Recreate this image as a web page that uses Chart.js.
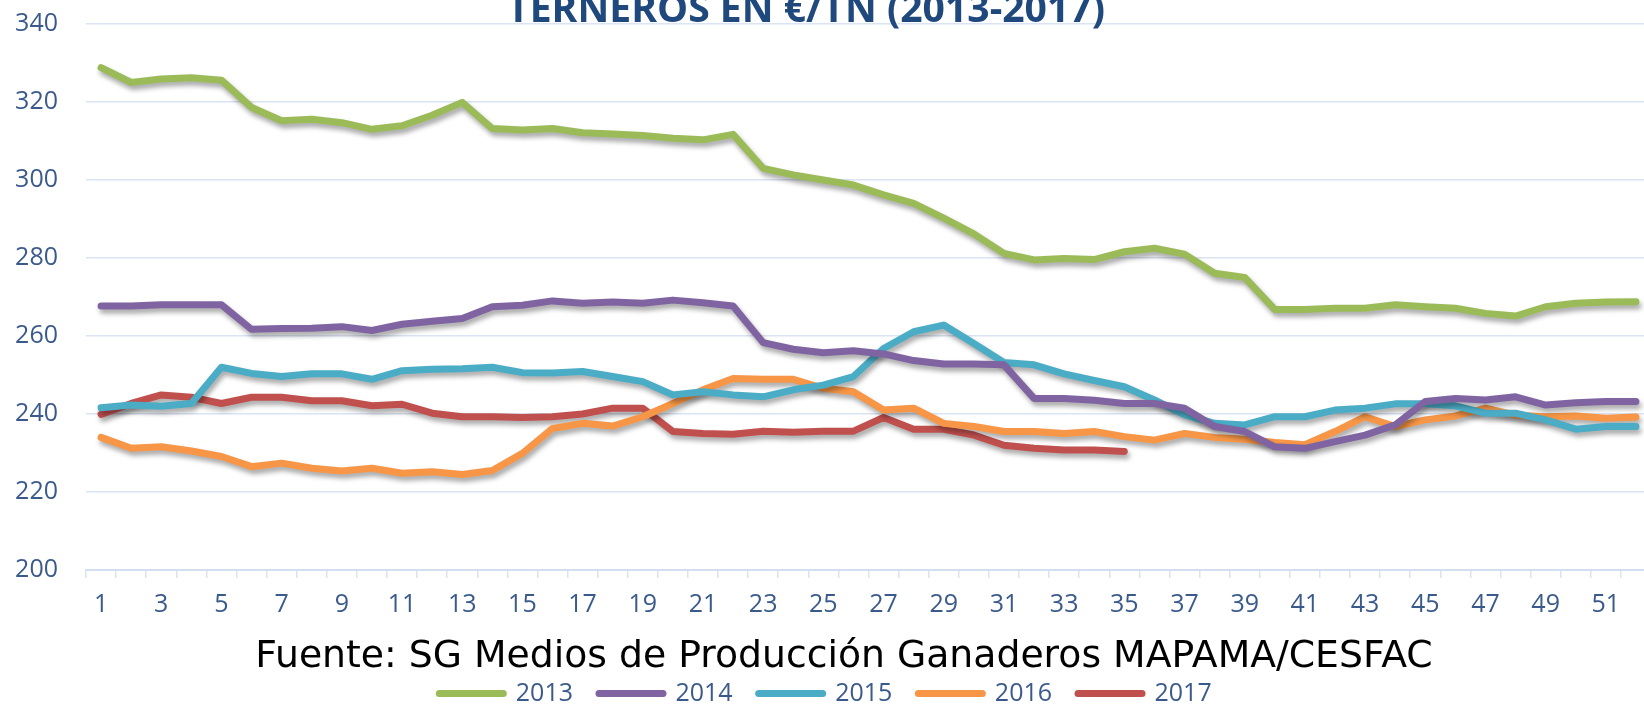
<!DOCTYPE html>
<html>
<head>
<meta charset="utf-8">
<script src="https://cdn.jsdelivr.net/npm/chart.js@4/dist/chart.umd.min.js"></script>
<style>
  html, body { margin: 0; padding: 0; background: #ffffff; overflow: hidden; }
  #wrap { position: relative; width: 1644px; height: 705px; overflow: hidden; }
  canvas { display: block; }
</style>
</head>
<body>
<div id="wrap"><canvas id="c" width="1652" height="716"></canvas></div>
<script>
const titleText = 'TERNEROS EN €/TN (2013-2017)';
const sourceText = 'Fuente: SG Medios de Producción Ganaderos MAPAMA/CESFAC';

const weeks = ['1','2','3','4','5','6','7','8','9','10','11','12','13','14','15','16','17','18','19','20',
  '21','22','23','24','25','26','27','28','29','30','31','32','33','34','35','36','37','38','39','40',
  '41','42','43','44','45','46','47','48','49','50','51','52'];

const seriesNames = ['2013', '2014', '2015', '2016', '2017'];

const s2013 = [328.8,325.0,325.9,326.2,325.6,318.6,315.2,315.6,314.7,313.0,
  313.9,316.6,319.9,313.2,312.8,313.2,312.1,311.8,311.4,310.7,
  310.3,311.7,303.0,301.3,300.0,298.7,296.2,294.0,290.2,286.2,
  281.2,279.5,279.9,279.6,281.6,282.5,281.0,276.1,275.0,266.8,
  266.8,267.1,267.1,268.0,267.5,267.1,265.8,265.1,267.5,268.4,
  268.7,268.8];
const s2014 = [267.7,267.7,268.0,268.0,268.0,261.7,261.9,262.0,262.4,261.4,
  263.0,263.8,264.5,267.5,267.9,269.0,268.4,268.7,268.4,269.2,
  268.5,267.7,258.3,256.6,255.7,256.2,255.4,253.7,252.8,252.8,
  252.6,244.0,244.0,243.5,242.7,242.7,241.5,236.8,235.5,231.6,
  231.2,232.9,234.6,237.2,243.2,244.0,243.6,244.4,242.3,242.9,
  243.2,243.2];
const s2015 = [241.6,242.3,242.0,242.7,252.0,250.4,249.6,250.3,250.3,248.9,
  251.1,251.5,251.6,252.0,250.6,250.5,250.9,249.6,248.3,244.9,
  245.7,244.9,244.4,246.2,247.4,249.6,256.8,261.1,262.8,258.1,
  253.2,252.6,250.3,248.6,247.0,243.6,239.8,237.6,237.2,239.3,
  239.3,241.0,241.5,242.6,242.6,242.1,240.2,240.2,238.5,236.1,
  236.8,236.8];
const s2016 = [234.0,231.2,231.6,230.5,229.1,226.5,227.4,226.1,225.4,226.1,
  224.8,225.2,224.5,225.5,229.9,236.3,237.6,236.9,239.3,242.7,
  246.2,249.1,248.9,248.9,246.6,245.7,241.0,241.5,237.6,236.8,
  235.5,235.5,235.0,235.5,234.2,233.3,235.0,234.0,233.5,232.7,
  232.1,235.5,239.3,236.8,238.5,239.5,241.5,239.7,239.3,239.5,
  238.9,239.2];
const s2017 = [239.9,242.7,244.9,244.3,242.7,244.3,244.3,243.4,243.4,242.1,
  242.5,240.2,239.3,239.3,239.1,239.3,240.0,241.5,241.5,235.5,
  235.0,234.8,235.6,235.3,235.6,235.6,239.1,236.1,236.1,234.6,
  232.0,231.2,230.8,230.8,230.4];

const yTicks = [200, 220, 240, 260, 280, 300, 320, 340];

const colors = ['#9BBB59', '#8064A2', '#4BACC6', '#F79646', '#C0504D'];
const allSeries = [s2013, s2014, s2015, s2016, s2017];

const tickColor = '#3B5A8C';
const gridColor = '#DAE4F3';

const shadowPlugin = {
  id: 'lineShadow',
  beforeDatasetsDraw(chart) {
    const ctx = chart.ctx;
    ctx.save();
    ctx.shadowColor = 'rgba(0,0,0,0.35)';
    ctx.shadowBlur = 5;
    ctx.shadowOffsetX = 2;
    ctx.shadowOffsetY = 4;
  },
  afterDatasetsDraw(chart) {
    chart.ctx.restore();
  }
};

function fitFont(ctx, text, family, weight, targetWidth) {
  ctx.font = weight + ' 40px ' + family;
  const w = ctx.measureText(text).width;
  return 40 * targetWidth / w;
}

const textPlugin = {
  id: 'extraTexts',
  afterDraw(chart) {
    const ctx = chart.ctx;
    const area = chart.chartArea;
    ctx.save();
    const tSize = fitFont(ctx, titleText, '"Open Sans", sans-serif', 'bold', 598);
    ctx.font = 'bold ' + tSize + 'px "Open Sans", sans-serif';
    ctx.fillStyle = '#1F497D';
    ctx.textAlign = 'center';
    ctx.textBaseline = 'alphabetic';
    ctx.fillText(titleText, 806, area.top - 2.5);
    const sSize = fitFont(ctx, sourceText, '"DejaVu Sans", sans-serif', 'normal', 1178);
    ctx.font = 'normal ' + sSize + 'px "DejaVu Sans", sans-serif';
    ctx.fillStyle = '#000000';
    ctx.fillText(sourceText, 844, area.bottom + 97);
    ctx.restore();
  }
};

const datasets = seriesNames.map((name, i) => ({
  label: name,
  data: allSeries[i],
  borderColor: colors[i],
  backgroundColor: colors[i],
  borderWidth: 7,
  pointRadius: 0,
  pointHoverRadius: 0,
  tension: 0,
  fill: false,
  borderJoinStyle: 'round',
  borderCapStyle: 'round'
}));

new Chart(document.getElementById('c'), {
  type: 'line',
  data: { labels: weeks, datasets },
  plugins: [shadowPlugin, textPlugin],
  options: {
    responsive: false,
    devicePixelRatio: 1,
    animation: false,
    layout: { padding: { top: 24, right: 1, left: 0, bottom: 0 } },
    plugins: {
      title: { display: false },
      tooltip: { enabled: false },
      legend: {
        display: true,
        position: 'bottom',
        labels: {
          usePointStyle: true,
          pointStyleWidth: 64,
          padding: 26,
          color: tickColor,
          font: { family: '"Open Sans", sans-serif', size: 25 },
          generateLabels(chart) {
            return chart.data.datasets.map((ds, i) => ({
              text: ds.label,
              fillStyle: ds.borderColor,
              strokeStyle: ds.borderColor,
              lineWidth: 7,
              lineCap: 'round',
              pointStyle: 'line',
              fontColor: tickColor,
              hidden: false,
              datasetIndex: i
            }));
          }
        }
      }
    },
    scales: {
      x: {
        type: 'category',
        offset: true,
        grid: {
          offset: true,
          drawOnChartArea: false,
          drawTicks: true,
          tickLength: 8,
          color: gridColor,
          lineWidth: 1.5
        },
        border: { display: true, color: '#D3DFF1', width: 2 },
        ticks: {
          autoSkip: false,
          maxRotation: 0,
          minRotation: 0,
          padding: 12,
          color: tickColor,
          font: { family: '"Open Sans", sans-serif', size: 25 },
          callback(value, index) { return index % 2 === 0 ? weeks[index] : ''; }
        },
        afterFit(scale) { scale.height = 85; scale.paddingLeft = 0; scale.paddingRight = 0; }
      },
      y: {
        min: 200,
        max: 340,
        afterBuildTicks(scale) { scale.ticks = yTicks.map(v => ({ value: v })); },
        grid: { drawTicks: false, color: gridColor, lineWidth: 1.5 },
        border: { display: false },
        ticks: {
          padding: 28,
          color: tickColor,
          font: { family: '"Open Sans", sans-serif', size: 25 }
        },
        afterFit(scale) { scale.width = 86; scale.paddingTop = 0; scale.paddingBottom = 0; }
      }
    }
  }
});
</script>
</body>
</html>
